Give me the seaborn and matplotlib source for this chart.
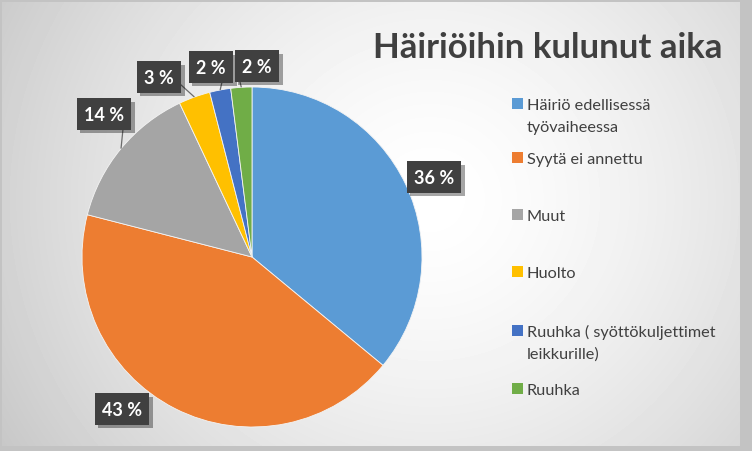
import numpy as np
import matplotlib
matplotlib.use("Agg")
import matplotlib.pyplot as plt
import seaborn as sns
from matplotlib.patches import Rectangle
import matplotlib.patheffects as pe

# ---------------- data ----------------
categories = ["Häiriö edellisessä\ntyövaiheessa", "Syytä ei annettu", "Muut", "Huolto",
              "Ruuhka ( syöttökuljettimet\nleikkurille)", "Ruuhka"]
values = [36, 43, 14, 3, 2, 2]
title = "Häiriöihin kulunut aika"

# ---------------- style / layout ----------------
colors = ["#5B9BD5", "#ED7D31", "#A5A5A5", "#FFC000", "#4472C4", "#70AD47"]
W, H = 752, 452
# label centres (pixels) and leader line ends (pixels, None = no line)
label_pos_px = [(434, 178), (122, 410), (104, 115), (159, 78), (211, 68), (257, 67)]
leader_end_px = [None, None, (123, 130), (180, 85), (222, 83), (240, 83)]
legend_base_px = [110, 164, 221, 278, 337, 395]
legend_line_pitch = 22
pie_cx, pie_cy, pie_r = 252, 258, 170

sns.set_theme(style="white")
plt.rcParams["font.family"] = ["Lato", "DejaVu Sans"]

fig = plt.figure(figsize=(W / 100, H / 100), dpi=100)
fig.patch.set_facecolor("#C3C3C3")

# background radial gradient for chart area
bx0, by0, bx1, by1 = 2, 3, 740, 447
bg = fig.add_axes([bx0 / W, 1 - by1 / H, (bx1 - bx0) / W, (by1 - by0) / H])
yy, xx = np.mgrid[by0:by1, bx0:bx1].astype(float)
d = np.hypot(xx - 430, (yy - 200) * 1.05)
v = 1 - 0.215 * np.clip(d / 496, 0, 1.2) ** 1.5
bg.imshow(v, cmap="gray", vmin=0, vmax=1, aspect="auto", interpolation="bilinear")
bg.axis("off")

# pie axes
ax = fig.add_axes([(pie_cx - pie_r) / W, 1 - (pie_cy + pie_r) / H, 2 * pie_r / W, 2 * pie_r / H])
ax.set_facecolor("none")
wedges, _ = ax.pie(values, colors=colors, startangle=90, counterclock=False, radius=1,
                   wedgeprops=dict(linewidth=0.6, edgecolor="#f4f4f4"))
ax.set_xlim(-1, 1)
ax.set_ylim(-1, 1)
ax.set_aspect("equal")
ax.axis("off")


def px2d(p):
    return ((p[0] - pie_cx) / pie_r, (pie_cy - p[1]) / pie_r)


for i, (w, val) in enumerate(zip(wedges, values)):
    mid = np.deg2rad((w.theta1 + w.theta2) / 2)
    if leader_end_px[i] is not None:
        ex, ey = px2d(leader_end_px[i])
        ax.plot([np.cos(mid), ex], [np.sin(mid), ey], color="#6b6b6b", lw=0.9,
                clip_on=False, zorder=3, solid_capstyle="butt")
    lx, ly = px2d(label_pos_px[i])
    t = ax.text(lx, ly, f"{val} %", ha="center", va="center", color="white",
                fontsize=13, fontweight="bold", zorder=5,
                bbox=dict(boxstyle="square,pad=0.4", fc="#404040", ec="none"))
    t.get_bbox_patch().set_path_effects([
        pe.SimplePatchShadow(offset=(2.5, -2.5), shadow_rgbFace="black", alpha=0.35),
        pe.Normal()])

# title
fig.text(548 / W, 1 - 48 / H, title, ha="center", va="center", fontsize=25,
         fontweight="bold", color="#404040")

# legend (manual, Excel style)
for i, lab in enumerate(categories):
    base = legend_base_px[i]
    fig.patches.append(Rectangle((512 / W, 1 - base / H), 11 / W, 11 / H,
                                 transform=fig.transFigure, fc=colors[i], ec="none"))
    for j, line in enumerate(lab.split("\n")):
        fig.text(527 / W, 1 - (base + j * legend_line_pitch) / H, line, ha="left",
                 va="baseline", fontsize=11.7, color="#404040")

fig.savefig("out.png", dpi=100)
